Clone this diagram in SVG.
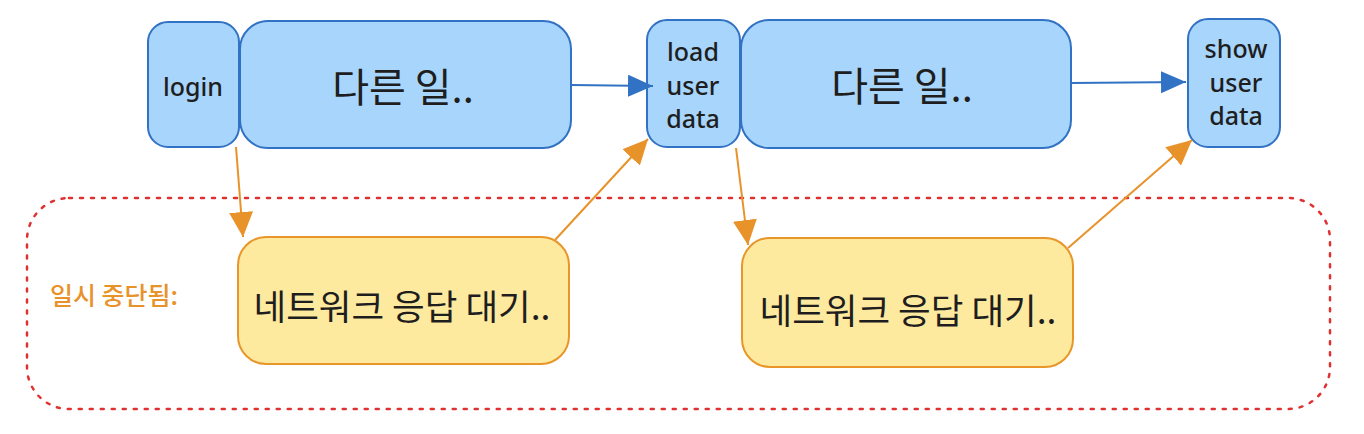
<svg xmlns="http://www.w3.org/2000/svg" width="1364" height="434" viewBox="0 0 1364 434">
<style>
.blue{fill:#a8d5fb;stroke:#3272c4;stroke-width:2}
.yel{fill:#feea9e;stroke:#e8962a;stroke-width:2}
.lat{font-family:"Noto Sans","Noto Sans CJK KR",sans-serif;font-size:25px;font-weight:500;fill:#1e1e1e;text-anchor:middle}
.kr{font-family:"Noto Sans CJK KR","Noto Sans",sans-serif;fill:#1e1e1e;text-anchor:middle}
.bl{fill:none;stroke:#3272c4;stroke-width:2}
.or{fill:none;stroke:#e8922a;stroke-width:2}
</style>
<defs>
<marker id="ab" markerUnits="userSpaceOnUse" markerWidth="26" markerHeight="24" refX="25" refY="11" orient="auto"><path d="M0,0 L25,11 L0,22 z" fill="#3272c4"/></marker>
<marker id="ao" markerUnits="userSpaceOnUse" markerWidth="26" markerHeight="26" refX="25" refY="12" orient="auto"><path d="M0,0 L25,12 L0,24 z" fill="#e8922a"/></marker>
</defs>
<rect x="27" y="198" width="1303" height="211" rx="42" fill="none" stroke="#e03131" stroke-width="2.5" stroke-dasharray="3 8" stroke-linecap="round"/>
<text x="114" y="305" font-family="Noto Sans CJK KR,sans-serif" font-size="25" font-weight="500" fill="#e8922a" text-anchor="middle">일시 중단됨:</text>
<g id="login"><rect class="blue" x="148" y="22" width="91" height="125" rx="20"/><text class="lat" x="193" y="96">login</text></g>
<g id="work1"><rect class="blue" x="240" y="21" width="331" height="127" rx="28"/><text class="kr" x="403" y="102" font-size="40">다른 일..</text></g>
<g id="load"><rect class="blue" x="647" y="20" width="93" height="127" rx="20"/><text class="lat" x="693" y="61">load</text><text class="lat" x="693" y="95">user</text><text class="lat" x="693" y="128">data</text></g>
<g id="work2"><rect class="blue" x="741" y="20" width="330" height="128" rx="28"/><text class="kr" x="902" y="101" font-size="40">다른 일..</text></g>
<g id="show"><rect class="blue" x="1188" y="19" width="92" height="128" rx="20"/><text class="lat" x="1236" y="58">show</text><text class="lat" x="1236" y="92">user</text><text class="lat" x="1236" y="125">data</text></g>
<g id="wait1"><rect class="yel" x="238" y="237" width="331" height="127" rx="28"/><text class="kr" x="402" y="320" font-size="35.5">네트워크 응답 대기..</text></g>
<g id="wait2"><rect class="yel" x="742" y="238" width="331" height="129" rx="28"/><text class="kr" x="908" y="324" font-size="35.5">네트워크 응답 대기..</text></g>
<g id="connectors">
<path class="bl" d="M571,85 L653,86" marker-end="url(#ab)"/>
<path class="bl" d="M1071,83 L1186,82" marker-end="url(#ab)"/>
<path class="or" d="M236,147 L243,237" marker-end="url(#ao)"/>
<path class="or" d="M555,240 L648,139" marker-end="url(#ao)"/>
<path class="or" d="M736,148 L748,245" marker-end="url(#ao)"/>
<path class="or" d="M1068,248 L1192,140" marker-end="url(#ao)"/>
</g>
</svg>
